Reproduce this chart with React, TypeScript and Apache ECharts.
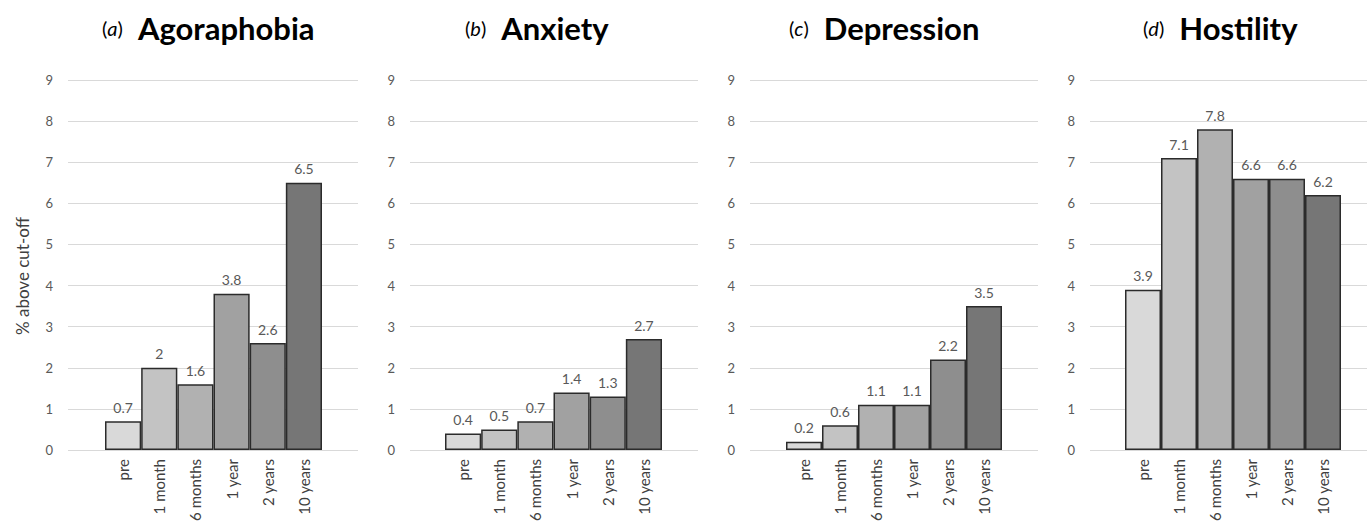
import React, { useEffect, useRef } from "react";
import * as echarts from "echarts";

const categories = ["pre", "1 month", "6 months", "1 year", "2 years", "10 years"];
const agoraphobia = [0.7, 2, 1.6, 3.8, 2.6, 6.5];
const anxiety = [0.4, 0.5, 0.7, 1.4, 1.3, 2.7];
const depression = [0.2, 0.6, 1.1, 1.1, 2.2, 3.5];
const hostility = [3.9, 7.1, 7.8, 6.6, 6.6, 6.2];
const panelLetters = ["a", "b", "c", "d"];
const panelNames = ["Agoraphobia", "Anxiety", "Depression", "Hostility"];
const yMin = 0;
const yMax = 9;
const yInterval = 1;
const yAxisTitle = "% above cut-off";

const panelData = [agoraphobia, anxiety, depression, hostility];
const barColors = ["#d9d9d9", "#c3c3c3", "#b1b1b1", "#a1a1a1", "#8e8e8e", "#767676"];

// layout: [gridLeft, gridRight, barLeft, barRight, titleLeft]
const layout = [
  [68, 358, 105, 322, 97],
  [410, 698, 445, 662, 460],
  [750, 1038, 786, 1002, 784],
  [1090, 1367, 1125, 1341, 1138],
];
const TOP = 80;
const HEIGHT = 370;
const FONT = "Lato, 'Open Sans', sans-serif";

export default function App() {
  const ref = useRef<HTMLDivElement>(null);
  useEffect(() => {
    if (!ref.current) return;
    const chart = echarts.init(ref.current, undefined, { renderer: "svg" });
    const grid: any[] = [];
    const xAxis: any[] = [];
    const yAxis: any[] = [];
    const series: any[] = [];
    const title: any[] = [];
    layout.forEach((l, i) => {
      const [gl, gr, bl, br, tl] = l;
      grid.push({
        left: gl,
        width: gr - gl,
        top: TOP,
        height: HEIGHT,
        containLabel: false,
        outerBoundsMode: "none",
      });
      xAxis.push({ type: "category", gridIndex: 2 * i, data: categories, show: false });
      yAxis.push({
        type: "value",
        gridIndex: 2 * i,
        min: yMin,
        max: yMax,
        interval: yInterval,
        axisLine: { show: false },
        axisTick: { show: false },
        splitLine: { show: true, lineStyle: { color: "#d9d9d9", width: 1 } },
        axisLabel: { color: "#595959", fontSize: 13, margin: 15, fontFamily: FONT },
      });
      grid.push({
        left: bl,
        width: br - bl,
        top: TOP,
        height: HEIGHT,
        containLabel: false,
        outerBoundsMode: "none",
      });
      xAxis.push({
        type: "category",
        gridIndex: 2 * i + 1,
        data: categories,
        axisLine: { show: false },
        axisTick: { show: false },
        axisLabel: {
          rotate: 90,
          color: "#404040",
          fontSize: 15,
          margin: 9,
          interval: 0,
          fontFamily: FONT,
        },
      });
      yAxis.push({
        type: "value",
        gridIndex: 2 * i + 1,
        min: yMin,
        max: yMax,
        interval: yInterval,
        show: false,
        splitLine: { show: false },
      });
      series.push({
        type: "bar",
        xAxisIndex: 2 * i + 1,
        yAxisIndex: 2 * i + 1,
        data: panelData[i],
        barCategoryGap: "0%",
        itemStyle: {
          color: (p: any) => barColors[p.dataIndex],
          borderColor: "#2b2b2b",
          borderWidth: 1.5,
        },
        label: {
          show: true,
          position: "top",
          distance: 7,
          color: "#595959",
          fontSize: 14,
          fontFamily: FONT,
        },
      });
      title.push({
        left: tl,
        top: 7,
        text: `{p|(}{i|${panelLetters[i]}}{p|)}{s| }{b|${panelNames[i]}}`,
        textStyle: {
          fontWeight: "normal",
          rich: {
            p: { fontSize: 20, fontFamily: FONT, fontWeight: "normal", color: "#000" },
            i: { fontSize: 20, fontFamily: FONT, fontWeight: "normal", fontStyle: "italic", color: "#000" },
            s: { fontSize: 20, width: 15 },
            b: { fontSize: 31, fontWeight: "bold", fontFamily: FONT, color: "#000" },
          },
        },
      });
    });
    chart.setOption({
      animation: false,
      backgroundColor: "#ffffff",
      title,
      grid,
      xAxis,
      yAxis,
      series,
      graphic: [
        {
          type: "text",
          x: 22,
          y: 276,
          rotation: Math.PI / 2,
          style: {
            text: yAxisTitle,
            fill: "#404040",
            fontSize: 17,
            fontFamily: FONT,
            align: "center",
            verticalAlign: "middle",
          },
        },
      ],
    });
    return () => chart.dispose();
  }, []);
  return (
    <div
      ref={ref}
      style={{ position: "fixed", left: 0, top: 0, width: 1367, height: 524, background: "#fff" }}
    />
  );
}
